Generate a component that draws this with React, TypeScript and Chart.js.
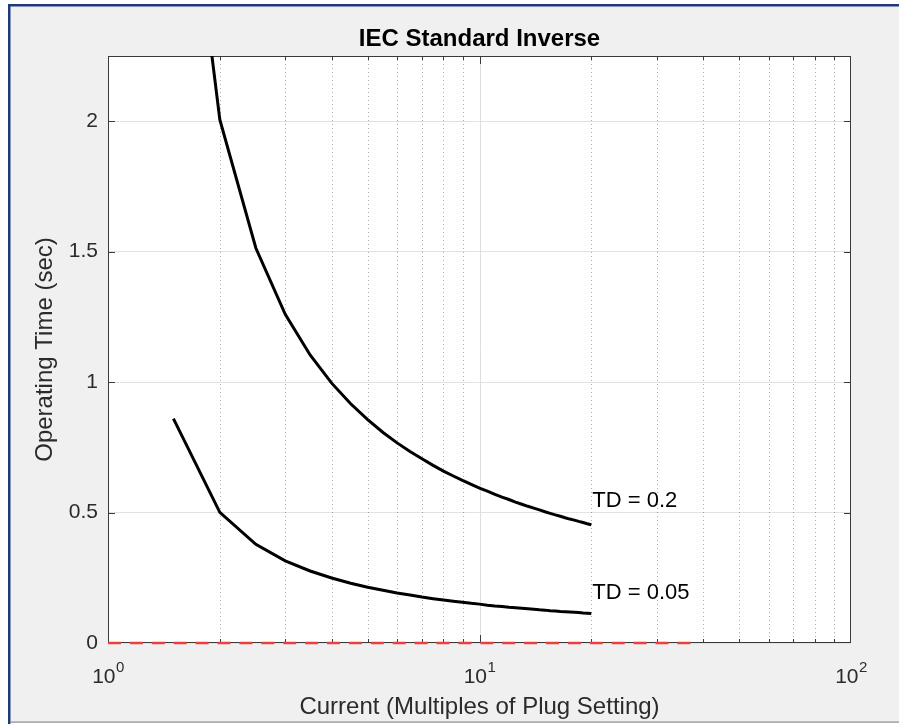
import React, { useEffect, useRef } from "react";
import { Chart, registerables } from "chart.js";

Chart.register(...registerables);

// ---------- data ----------
const CURRENT = [
  1.5, 2, 2.5, 3, 3.5, 4, 4.5, 5, 5.5, 6, 6.5, 7, 7.5, 8, 8.5, 9, 9.5, 10,
  10.5, 11, 11.5, 12, 12.5, 13, 13.5, 14, 14.5, 15, 15.5, 16, 16.5, 17, 17.5,
  18, 18.5, 19, 19.5, 20,
];
const TIME_TD_02 = [
  3.439, 2.006, 1.514, 1.26, 1.104, 0.996, 0.917, 0.856, 0.807, 0.767, 0.734,
  0.706, 0.681, 0.659, 0.64, 0.623, 0.608, 0.594, 0.582, 0.57, 0.559, 0.55,
  0.54, 0.532, 0.524, 0.517, 0.51, 0.503, 0.497, 0.491, 0.486, 0.48, 0.475,
  0.471, 0.466, 0.462, 0.457, 0.453,
];
const TIME_TD_005 = [
  0.86, 0.501, 0.378, 0.315, 0.276, 0.249, 0.229, 0.214, 0.202, 0.192, 0.184,
  0.176, 0.17, 0.165, 0.16, 0.156, 0.152, 0.149, 0.145, 0.142, 0.14, 0.137,
  0.135, 0.133, 0.131, 0.129, 0.127, 0.126, 0.124, 0.123, 0.121, 0.12, 0.119,
  0.118, 0.117, 0.115, 0.114, 0.113,
];
const ZERO_X = [1, 38];
const ZERO_Y = [0, 0];

const Y_TICKS = [0, 0.5, 1, 1.5, 2];
const X_MAJOR_TICKS = [1, 10, 100];
const X_MINOR_TICKS = [2, 3, 4, 5, 6, 7, 8, 9, 20, 30, 40, 50, 60, 70, 80, 90];

const CURVE_LABELS = ["TD = 0.2", "TD = 0.05"];
const CURVE_LABEL_X = [20, 20];
const CURVE_LABEL_Y = [0.545, 0.192];

const TITLE = "IEC Standard Inverse";
const X_TITLE = "Current (Multiples of Plug Setting)";
const Y_TITLE = "Operating Time (sec)";

const FONT = '"Liberation Sans", Arial, Helvetica, sans-serif';
const AXIS_COLOR = "#3a3a3a";
const TEXT_COLOR = "#2b2b2b";

const matlabPlugin = {
  id: "matlabLook",
  beforeDraw(chart: any) {
    const { ctx, width, height, chartArea: a } = chart;
    ctx.save();
    ctx.fillStyle = "#ffffff";
    ctx.fillRect(0, 0, width, height);
    ctx.fillStyle = "#f0f0f0";
    ctx.fillRect(10, 6, width - 10, height - 8);
    // window frame
    ctx.fillStyle = "#1d3b7c";
    ctx.fillRect(8, 4, width - 8, 2.5);
    ctx.fillRect(8, 4, 2.5, height - 4);
    ctx.fillStyle = "#8a8a8a";
    ctx.fillRect(10, height - 2.5, width - 10, 1.2);
    // plot area
    ctx.fillStyle = "#ffffff";
    ctx.fillRect(a.left, a.top, a.right - a.left, a.bottom - a.top);
    ctx.restore();
  },
  beforeDatasetsDraw(chart: any) {
    const { ctx, chartArea: a, scales } = chart;
    const xs = scales.x;
    const ys = scales.y;
    const xPix = (v: number) =>
      Math.min(Math.max(Math.round(xs.getPixelForValue(v)) + 0.5, a.left + 0.5), a.right - 0.5);
    const yPix = (v: number) =>
      Math.min(Math.max(Math.round(ys.getPixelForValue(v)) + 0.5, a.top + 0.5), a.bottom - 0.5);
    ctx.save();
    // minor x grid (dotted)
    ctx.lineWidth = 1;
    ctx.strokeStyle = "rgba(0,0,0,0.32)";
    ctx.setLineDash([1, 3]);
    for (const v of X_MINOR_TICKS) {
      const px = xPix(v);
      ctx.beginPath();
      ctx.moveTo(px, a.top);
      ctx.lineTo(px, a.bottom);
      ctx.stroke();
    }
    ctx.setLineDash([]);
    // major x grid
    ctx.strokeStyle = "#dedede";
    for (const v of X_MAJOR_TICKS) {
      const px = xPix(v);
      if (px <= a.left + 1 || px >= a.right - 1) continue;
      ctx.beginPath();
      ctx.moveTo(px, a.top);
      ctx.lineTo(px, a.bottom);
      ctx.stroke();
    }
    // box
    ctx.strokeStyle = AXIS_COLOR;
    ctx.lineWidth = 1;
    ctx.strokeRect(a.left + 0.5, a.top + 0.5, a.right - a.left - 1, a.bottom - a.top - 1);
    // ticks
    ctx.beginPath();
    for (const v of Y_TICKS) {
      const py = yPix(v);
      ctx.moveTo(a.left, py);
      ctx.lineTo(a.left + 7, py);
      ctx.moveTo(a.right, py);
      ctx.lineTo(a.right - 7, py);
    }
    for (const v of X_MAJOR_TICKS) {
      const px = xPix(v);
      ctx.moveTo(px, a.bottom);
      ctx.lineTo(px, a.bottom - 8);
      ctx.moveTo(px, a.top);
      ctx.lineTo(px, a.top + 8);
    }
    for (const v of X_MINOR_TICKS) {
      const px = xPix(v);
      ctx.moveTo(px, a.bottom);
      ctx.lineTo(px, a.bottom - 4);
      ctx.moveTo(px, a.top);
      ctx.lineTo(px, a.top + 4);
    }
    ctx.stroke();
    ctx.restore();
  },
  afterDraw(chart: any) {
    const { ctx, chartArea: a, scales } = chart;
    const xs = scales.x;
    const ys = scales.y;
    const cx = (a.left + a.right) / 2;
    ctx.save();
    ctx.fillStyle = TEXT_COLOR;
    // x tick labels 10^n
    ctx.textBaseline = "alphabetic";
    ctx.textAlign = "left";
    for (const v of X_MAJOR_TICKS) {
      const exp = String(Math.round(Math.log10(v)));
      const px = xs.getPixelForValue(v);
      ctx.font = `21px ${FONT}`;
      const w1 = ctx.measureText("10").width;
      ctx.font = `15px ${FONT}`;
      const w2 = ctx.measureText(exp).width;
      const start = px - (w1 + w2) / 2;
      ctx.font = `21px ${FONT}`;
      ctx.fillText("10", start, a.bottom + 40);
      ctx.font = `15px ${FONT}`;
      ctx.fillText(exp, start + w1 + 0.5, a.bottom + 29);
    }
    // title
    ctx.font = `bold 24px ${FONT}`;
    ctx.fillStyle = "#000000";
    ctx.textAlign = "center";
    ctx.fillText(TITLE, cx, a.top - 10);
    // x title
    ctx.font = `24px ${FONT}`;
    ctx.fillStyle = TEXT_COLOR;
    ctx.fillText(X_TITLE, cx, a.bottom + 71);
    // y title
    ctx.save();
    ctx.translate(a.left - 56, (a.top + a.bottom) / 2);
    ctx.rotate(-Math.PI / 2);
    ctx.fillText(Y_TITLE, 0, 0);
    ctx.restore();
    // curve labels
    ctx.font = `22px ${FONT}`;
    ctx.fillStyle = "#000000";
    ctx.textAlign = "left";
    ctx.textBaseline = "middle";
    for (let i = 0; i < CURVE_LABELS.length; i++) {
      ctx.fillText(
        CURVE_LABELS[i],
        xs.getPixelForValue(CURVE_LABEL_X[i]) + 1,
        ys.getPixelForValue(CURVE_LABEL_Y[i])
      );
    }
    ctx.restore();
  },
};

export default function App() {
  const ref = useRef<HTMLCanvasElement | null>(null);
  useEffect(() => {
    if (!ref.current) return;
    const chart = new Chart(ref.current, {
      type: "line",
      data: {
        datasets: [
          {
            data: CURRENT.map((x, i) => ({ x, y: TIME_TD_02[i] })),
            borderColor: "#000000",
            borderWidth: 3,
            pointRadius: 0,
            tension: 0,
            clip: 0,
          },
          {
            data: CURRENT.map((x, i) => ({ x, y: TIME_TD_005[i] })),
            borderColor: "#000000",
            borderWidth: 3,
            pointRadius: 0,
            tension: 0,
            clip: 0,
          },
          {
            data: ZERO_X.map((x, i) => ({ x, y: ZERO_Y[i] })),
            borderColor: "rgb(236,64,64)",
            borderWidth: 2.5,
            borderDash: [13, 8.9],
            pointRadius: 0,
            tension: 0,
            clip: { left: 0, top: 0, right: 0, bottom: 6 },
          },
        ],
      } as any,
      options: {
        responsive: false,
        animation: false,
        devicePixelRatio: 1,
        layout: { padding: { top: 56, right: 48, left: 0, bottom: 0 } },
        plugins: {
          legend: { display: false },
          tooltip: { enabled: false },
          title: { display: false },
        },
        scales: {
          x: {
            type: "logarithmic",
            min: 1,
            max: 100,
            ticks: { display: false },
            grid: { display: false },
            border: { display: false },
            afterFit: (s: any) => {
              s.height = 81;
            },
          },
          y: {
            type: "linear",
            min: 0,
            max: 2.25,
            afterBuildTicks: (s: any) => {
              s.ticks = Y_TICKS.map((v) => ({ value: v }));
            },
            ticks: {
              font: { family: FONT, size: 21 },
              color: TEXT_COLOR,
              padding: 10,
              callback: (v: any) => String(v),
            },
            grid: { color: "#e2e2e2", lineWidth: 1, drawTicks: false },
            border: { display: false },
            afterFit: (s: any) => {
              s.width = 108;
            },
          },
        },
      } as any,
      plugins: [matlabPlugin],
    });
    return () => chart.destroy();
  }, []);
  return (
    <div style={{ position: "fixed", left: 0, top: 0, width: 899, height: 724 }}>
      <canvas ref={ref} width={899} height={724} style={{ display: "block" }} />
    </div>
  );
}
